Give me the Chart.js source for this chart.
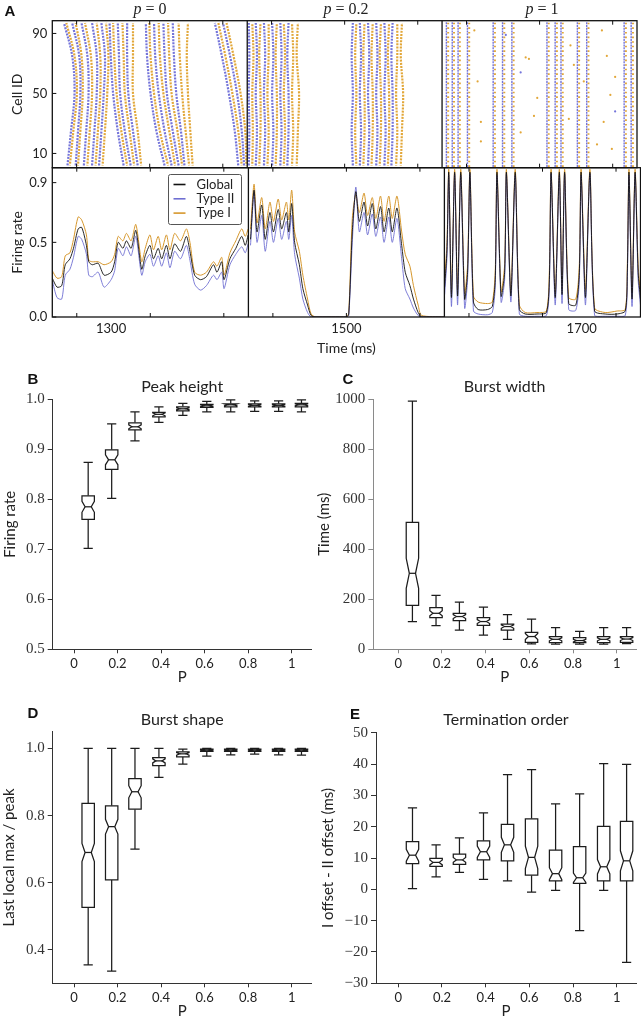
<!DOCTYPE html>
<html>
<head>
<meta charset="utf-8">
<script src="https://cdn.jsdelivr.net/npm/chart.js@4.4.1/dist/chart.umd.min.js"></script>
<style>
  body { margin: 0; background: #fff; }
  #fig { position: relative; width: 641px; height: 1019px; overflow: hidden; }
  #fig canvas { position: absolute; left: 0; top: 0; }
  .lab { position: absolute; transform: translate(-50%, -50%); font: bold 15px "Liberation Sans", Arial, sans-serif; color: #111; }
  .ptitle { position: absolute; transform: translate(-50%, -50%); font: 16px "Liberation Serif", serif; color: #222; white-space: nowrap; }
</style>
</head>
<body>
<div id="fig">
  <canvas id="raster" width="641" height="1019"></canvas>
  <canvas id="rate" width="641" height="1019"></canvas>
  <canvas id="peak" width="641" height="1019"></canvas>
  <canvas id="width" width="641" height="1019"></canvas>
  <canvas id="shape" width="641" height="1019"></canvas>
  <canvas id="order" width="641" height="1019"></canvas>
  <div class="lab" style="left:10px;top:10px">A</div>
  <div class="lab" style="left:33px;top:378px">B</div>
  <div class="lab" style="left:348px;top:378px">C</div>
  <div class="lab" style="left:33px;top:712px">D</div>
  <div class="lab" style="left:355px;top:713px">E</div>
  <div class="ptitle" style="left:150px;top:9px"><i>p</i> = 0</div>
  <div class="ptitle" style="left:346px;top:9px"><i>p</i> = 0.2</div>
  <div class="ptitle" style="left:542px;top:9px"><i>p</i> = 1</div>
</div>
<script>
// ---------- panel A: time axis ----------
var panelEdges = [1416.7, 1583.3];
var timeLabels = [1300, 1500, 1700];
var timeTickMarks = [1270.8, 1333.3, 1395.8, 1437.5, 1500, 1562.5, 1604.2, 1666.7, 1729.2];
var cellTicks = [10, 50, 90];
var rateTicks = [0, 0.5, 0.9];

// raster volleys: spike time (ms) at the cells listed in stripeCells
var stripeCells = [2, 25, 50, 75, 97];
var edgeCells = [1, 98];
var typeIIStripesP0 = [
  [1263, 1266, 1269, 1267, 1260], [1270, 1272, 1274, 1273, 1267], [1277, 1279, 1281, 1280, 1275],
  [1284, 1286, 1288, 1288, 1284], [1290, 1292, 1294, 1295, 1292],
  [1311, 1306, 1302, 1300, 1299], [1317, 1312, 1308, 1307, 1306], [1323, 1319, 1315, 1314, 1314],
  [1346, 1339, 1334, 1331, 1330], [1352, 1346, 1341, 1338, 1337], [1358, 1353, 1348, 1346, 1345],
  [1363, 1360, 1356, 1354, 1353],
  [1409, 1406, 1401, 1395, 1389], [1414, 1412, 1408, 1402, 1396]
];
var typeIStripesP0 = [
  [1265, 1268, 1271, 1269, 1262], [1272, 1274, 1276, 1275, 1270], [1280, 1282, 1284, 1283, 1278],
  [1287, 1289, 1291, 1291, 1288], [1293, 1295, 1297, 1298, 1296],
  [1314, 1309, 1305, 1303, 1302], [1320, 1316, 1312, 1311, 1310], [1326, 1323, 1319, 1319, 1319],
  [1349, 1342, 1337, 1334, 1333], [1355, 1350, 1345, 1342, 1341], [1361, 1357, 1352, 1350, 1349],
  [1367, 1364, 1361, 1359, 1358], [1370, 1368, 1366, 1365, 1366],
  [1412, 1409, 1404, 1398, 1392], [1416, 1415, 1411, 1405, 1399]
];
var typeIIStripesP02 = [
  [1418, 1418.5, 1418, 1418.5, 1418], [1424, 1425, 1424, 1425, 1424], [1431, 1432, 1431, 1432, 1431],
  [1438, 1439, 1438, 1439, 1438], [1445, 1446, 1445, 1446, 1445], [1451, 1452, 1452, 1451, 1452],
  [1507, 1506, 1507, 1506, 1507], [1513, 1514, 1513, 1514, 1513], [1520, 1521, 1520, 1521, 1520],
  [1527, 1528, 1527, 1528, 1527], [1534, 1535, 1534, 1535, 1534], [1540, 1541, 1541, 1540, 1541]
];
var typeIStripesP02 = [
  [1421, 1421.5, 1421, 1422, 1421], [1427, 1428, 1428, 1427, 1428], [1434, 1435, 1434, 1435, 1435],
  [1441, 1442, 1442, 1441, 1442], [1448, 1449, 1448, 1449, 1448], [1455, 1456, 1455, 1456, 1455],
  [1459, 1460, 1461, 1459, 1460],
  [1510, 1509, 1510, 1509, 1510], [1516, 1517, 1517, 1516, 1517], [1523, 1524, 1524, 1523, 1524],
  [1530, 1531, 1531, 1530, 1531], [1537, 1538, 1538, 1537, 1538], [1544, 1545, 1544, 1545, 1545],
  [1548, 1549, 1550, 1548, 1549]
];
var typeIIVolleysP1 = [1587, 1592, 1597, 1605, 1627, 1635, 1643, 1673, 1680, 1685, 1699, 1707, 1739, 1745];
var typeIVolleysP1 = [1588.5, 1593.5, 1598.5, 1606.5, 1628.5, 1636.5, 1644.5, 1674.5, 1681.5, 1686.5, 1700.5, 1708.5, 1740.5, 1746.5];
var strayTypeITime = [1610.9, 1654.8, 1657.6, 1664.7, 1720, 1724.2, 1731.3, 1616.5, 1650.5, 1661.9, 1691.7, 1704.5, 1721.5, 1727.2, 1613.7, 1616.5, 1693.1, 1696, 1715.8, 1728.5];
var strayTypeICell = [92, 74, 73, 47, 92, 75, 61, 18, 24, 35, 33, 58, 31, 49, 58, 31, 82, 69, 16, 13];
var strayTypeIITime = [1637.8, 1731.3, 1650.5];
var strayTypeIICell = [89, 38, 64];

// firing rate, one block per p-window
var timeP0 = [1250,1254,1258,1261,1265,1268,1272,1275,1279,1281,1284,1289,1294,1300,1303,1306,1310,1313,1317,1321,1326,1329,1333,1336,1340,1343,1347,1350,1354,1359,1364,1367,1371,1376,1381,1387,1390,1394,1396,1401,1406,1411,1414,1416.5];
var globalP0 = [.26,.20,.21,.35,.39,.46,.59,.60,.48,.37,.35,.36,.28,.30,.37,.50,.46,.51,.46,.58,.32,.41,.48,.39,.46,.39,.48,.39,.49,.44,.54,.44,.28,.25,.27,.35,.30,.37,.25,.39,.46,.54,.48,.55];
var typeIP0 = [.31,.26,.27,.41,.43,.52,.67,.65,.55,.38,.37,.37,.35,.37,.42,.54,.51,.56,.51,.62,.37,.46,.55,.45,.54,.45,.55,.45,.56,.51,.59,.50,.30,.28,.30,.37,.34,.40,.28,.43,.51,.59,.54,.59];
var typeIIP0 = [.245,.13,.12,.28,.32,.40,.54,.52,.42,.28,.27,.30,.20,.25,.31,.46,.41,.47,.41,.54,.28,.37,.42,.34,.41,.34,.43,.33,.44,.39,.48,.38,.22,.18,.21,.28,.25,.30,.19,.35,.42,.47,.43,.49];

var timeP02 = [1418.5,1421.5,1424,1428,1431,1435,1438,1442,1445,1449,1451,1453.5,1456,1460,1463,1467,1470,1474,1500,1502,1505,1508,1511,1515,1518,1522,1525,1529,1532,1536,1539,1543,1547,1550,1554,1557,1561,1564,1583];
var globalP02 = [.52,.85,.57,.75,.52,.70,.57,.72,.59,.70,.57,.76,.50,.35,.19,.08,.01,0,0,.02,.57,.84,.64,.77,.61,.76,.59,.74,.57,.73,.57,.73,.48,.30,.21,.12,.03,0,0];
var typeIP02 = [.59,.89,.63,.80,.59,.77,.64,.79,.65,.77,.65,.85,.57,.44,.28,.12,.02,0,0,.03,.66,.82,.70,.83,.68,.80,.66,.81,.64,.81,.66,.81,.57,.42,.34,.21,.08,.01,0];
var typeIIP02 = [.48,.83,.50,.68,.44,.64,.50,.66,.52,.64,.52,.68,.42,.26,.12,.03,0,0,0,.01,.50,.87,.57,.70,.55,.69,.54,.67,.50,.67,.50,.66,.39,.19,.12,.06,.01,0,0];

var timeP1 = [1583.5,1585.5,1587,1589.3,1592,1594.5,1597.2,1600.5,1603,1605,1608,1612,1620,1624,1626.5,1628,1631.5,1634.5,1636,1639.8,1643.5,1647,1652,1662,1670,1672.5,1674,1677.5,1681,1683.3,1685.5,1689,1695,1698,1699.5,1703.2,1707,1711,1720,1730,1737,1738.8,1740.2,1742.8,1745.4,1748,1750];
var globalP1 = [.20,.45,.97,.13,.97,.14,.97,.12,.30,.97,.10,.05,.05,.07,.25,.97,.14,.30,.97,.14,.97,.05,.02,.02,.03,.25,.97,.13,.97,.15,.97,.09,.08,.30,.97,.13,.97,.04,.02,.02,.04,.30,.97,.12,.97,.30,.12];
var typeIP1 = [.25,.50,.99,.16,.99,.18,.99,.16,.35,.99,.14,.10,.09,.10,.30,.99,.17,.35,.99,.17,.99,.08,.03,.03,.04,.30,.99,.16,.99,.19,.99,.13,.12,.35,.99,.18,.99,.06,.03,.04,.05,.35,.99,.16,.99,.35,.15];
var typeIIP1 = [.15,.40,.95,.07,.96,.08,.95,.06,.25,.96,.04,.02,.015,.03,.20,.95,.10,.25,.96,.10,.95,.02,.005,.005,.01,.20,.96,.08,.95,.09,.96,.05,.045,.25,.95,.08,.96,.01,.005,.005,.01,.25,.95,.07,.96,.25,.08];

// ---------- panels B-E: box statistics at each P ----------
var boxP = [0.065, 0.173, 0.28, 0.39, 0.5, 0.61, 0.72, 0.83, 0.94, 1.045];
var xTicksP = [0, 0.2, 0.4, 0.6, 0.8, 1];

var peakLo = [0.702,0.802,0.917,0.954,0.968,0.975,0.975,0.976,0.976,0.975];
var peakQ1 = [0.760,0.860,0.939,0.965,0.977,0.984,0.985,0.985,0.985,0.985];
var peakMed = [0.785,0.879,0.945,0.970,0.981,0.987,0.989,0.988,0.988,0.989];
var peakQ3 = [0.807,0.899,0.953,0.974,0.985,0.990,0.991,0.991,0.991,0.992];
var peakHi = [0.874,0.951,0.975,0.985,0.992,0.996,0.999,0.997,0.997,0.999];
var peakNotch = [0.011,0.010,0.004,0.003,0.002,0.002,0.002,0.002,0.002,0.002];
var peakTicks = [0.5, 0.6, 0.7, 0.8, 0.9, 1.0];

var widthLo = [111,95,77,57,40,22,21,21,21,23];
var widthQ1 = [176,127,115,96,77,28,27,27,27,28];
var widthMed = [304,144,131,111,91,51,40,35,40,41];
var widthQ3 = [508,167,144,127,101,68,51,47,51,51];
var widthHi = [993,216,189,169,139,121,87,72,87,87];
var widthNotch = [60,10,8,8,7,12,6,5,6,6];
var widthTicks = [0, 200, 400, 600, 800, 1000];

var shapeLo = [0.355,0.336,0.700,0.914,0.953,0.977,0.981,0.983,0.981,0.980];
var shapeQ1 = [0.526,0.608,0.819,0.949,0.975,0.991,0.991,0.991,0.991,0.991];
var shapeMed = [0.690,0.767,0.871,0.963,0.984,0.995,0.995,0.995,0.995,0.995];
var shapeQ3 = [0.836,0.829,0.910,0.973,0.990,0.998,0.998,0.998,0.998,0.998];
var shapeHi = [1.0,1.0,1.0,1.0,0.998,1.0,1.0,1.0,1.0,1.0];
var shapeNotch = [0.027,0.022,0.018,0.006,0.004,0.002,0.002,0.002,0.002,0.002];
var shapeTicks = [0.4, 0.6, 0.8, 1.0];

var orderLo = [0.2,4.0,5.4,3.2,2.7,-0.9,-0.3,-13.2,-0.3,-23.3];
var orderQ1 = [8.2,7.3,8.0,9.4,9.1,4.5,2.7,1.9,2.7,2.7];
var orderMed = [10.9,8.6,9.4,12.0,14.2,10.2,5.0,3.7,7.2,9.1];
var orderQ3 = [15.2,9.9,11.2,15.5,20.7,22.5,12.5,13.6,20.1,21.7];
var orderHi = [26.0,14.2,16.4,24.4,36.6,38.2,27.3,30.5,40.1,39.9];
var orderNotch = [1.9,0.8,0.8,1.8,2.4,3.6,1.9,1.5,2.3,3.2];
var orderTicks = [-30, -20, -10, 0, 10, 20, 30, 40, 50];

// ---------- shared look ----------
var W = 641, H = 1019;
var BLUE = '#6f6fd2', ORANGE = '#d6972c';
var RBLUE = '#7474da', RORANGE = '#e2a739';
Chart.defaults.font.family = 'Lato, "DejaVu Sans", sans-serif';
Chart.defaults.color = '#222';
Chart.defaults.animation = false;
var sansTick = { family: 'Lato, sans-serif', size: 13 };
var serifTick = { family: '"Liberation Serif", serif', size: 15 };

function useTicks(list) {
  return function (s) { s.ticks = list.map(function (v) { return { value: v }; }); };
}

// box outline, panel dividers and inward tick marks of panel A
function frameA(yMarks) {
  return {
    id: 'frameA',
    afterDraw: function (chart) {
      var ctx = chart.ctx, a = chart.chartArea, x = chart.scales.x, y = chart.scales.y;
      ctx.save();
      ctx.strokeStyle = '#111';
      ctx.lineWidth = 1.3;
      ctx.strokeRect(a.left, a.top, a.right - a.left, a.bottom - a.top);
      ctx.beginPath();
      panelEdges.forEach(function (t) {
        var px = x.getPixelForValue(t);
        ctx.moveTo(px, a.top); ctx.lineTo(px, a.bottom);
      });
      ctx.stroke();
      ctx.lineWidth = 1;
      ctx.beginPath();
      timeTickMarks.forEach(function (t) {
        var px = x.getPixelForValue(t);
        ctx.moveTo(px, a.bottom); ctx.lineTo(px, a.bottom - 4);
        ctx.moveTo(px, a.top); ctx.lineTo(px, a.top + 4);
      });
      yMarks.forEach(function (v) {
        var py = y.getPixelForValue(v);
        ctx.moveTo(a.left, py); ctx.lineTo(a.left + 4, py);
      });
      ctx.stroke();
      ctx.restore();
    }
  };
}

var legendA = {
  id: 'legendA',
  afterDraw: function (chart) {
    var ctx = chart.ctx, x0 = 168.5, y0 = 174.5;
    ctx.save();
    ctx.fillStyle = '#fff';
    ctx.strokeStyle = '#555';
    ctx.lineWidth = 1;
    ctx.beginPath();
    ctx.roundRect(x0, y0, 73, 50, 2);
    ctx.fill();
    ctx.stroke();
    ctx.font = '13px Lato, sans-serif';
    ctx.textBaseline = 'middle';
    chart.data.datasets.forEach(function (d, i) {
      var yy = y0 + 10 + i * 14.3;
      ctx.strokeStyle = d.borderColor;
      ctx.lineWidth = 1.6;
      ctx.beginPath();
      ctx.moveTo(x0 + 5, yy); ctx.lineTo(x0 + 17, yy);
      ctx.stroke();
      ctx.fillStyle = '#222';
      ctx.fillText(d.label, x0 + 28, yy);
    });
    ctx.restore();
  }
};

// ---------- A top: raster ----------
function stripes(list, color, dash, offset) {
  return list.map(function (times) {
    return {
      data: stripeCells.map(function (c, i) { return { x: times[i], y: c }; }),
      borderColor: color, borderWidth: 2.2, borderDash: dash, borderDashOffset: offset,
      pointRadius: 0, tension: 0.35, fill: false
    };
  });
}
function volleys(list, color, dash, width) {
  return list.map(function (t) {
    return {
      data: edgeCells.map(function (c) { return { x: t, y: c }; }),
      borderColor: color, borderWidth: width, borderDash: dash, pointRadius: 0, fill: false
    };
  });
}
function strays(times, cells, color) {
  return {
    type: 'scatter',
    data: times.map(function (t, i) { return { x: t, y: cells[i] }; }),
    backgroundColor: color, borderWidth: 0, pointRadius: 1.1
  };
}

var rasterSets = []
  .concat(stripes(typeIIStripesP0, RBLUE, [2, 1.2], 0))
  .concat(stripes(typeIStripesP0, RORANGE, [2, 1.2], 1.5))
  .concat(stripes(typeIIStripesP02, RBLUE, [2, 1.2], 0))
  .concat(stripes(typeIStripesP02, RORANGE, [2, 1.2], 1.5))
  .concat(volleys(typeIIVolleysP1, RBLUE, [2, 0.8], 1.4))
  .concat(volleys(typeIVolleysP1, RORANGE, [1.6, 3], 2))
  .concat([strays(strayTypeITime, strayTypeICell, RORANGE), strays(strayTypeIITime, strayTypeIICell, RBLUE)]);

new Chart('raster', {
  type: 'line',
  data: { datasets: rasterSets },
  options: {
    responsive: false,
    layout: { padding: { left: 8.6, top: 20.7, right: 0.5, bottom: H - 167.7 } },
    plugins: { legend: { display: false }, tooltip: { enabled: false } },
    scales: {
      x: { type: 'linear', min: 1250, max: 1750, display: false },
      y: {
        type: 'linear', min: 0.5, max: 98.5,
        afterBuildTicks: useTicks(cellTicks),
        afterFit: function (s) { s.width = 43.7; },
        grid: { display: false, drawTicks: false }, border: { display: false },
        ticks: { font: sansTick, padding: 5, color: '#222' },
        title: { display: true, text: 'Cell ID', padding: 0, font: { size: 14 } }
      }
    }
  },
  plugins: [frameA(cellTicks)]
});

// ---------- A bottom: firing rate ----------
function joined(a, b, c) {
  function pts(times, vals) { return times.map(function (t, i) { return { x: t, y: vals[i] }; }); }
  return pts(timeP0, a).concat([{ x: panelEdges[0], y: null }], pts(timeP02, b),
    [{ x: panelEdges[1], y: null }], pts(timeP1, c));
}

new Chart('rate', {
  type: 'line',
  data: {
    datasets: [
      { label: 'Global', data: joined(globalP0, globalP02, globalP1), borderColor: '#111', borderWidth: 0.9 },
      { label: 'Type II', data: joined(typeIIP0, typeIIP02, typeIIP1), borderColor: BLUE, borderWidth: 0.9 },
      { label: 'Type I', data: joined(typeIP0, typeIP02, typeIP1), borderColor: ORANGE, borderWidth: 1 }
    ]
  },
  options: {
    responsive: false,
    elements: { point: { radius: 0 }, line: { tension: 0.25 } },
    layout: { padding: { left: 8.6, top: 167.7, right: 0.5, bottom: H - 317 - 39.4 } },
    plugins: { legend: { display: false }, tooltip: { enabled: false } },
    scales: {
      x: {
        type: 'linear', min: 1250, max: 1750,
        afterBuildTicks: useTicks(timeLabels),
        afterFit: function (s) { s.height = 39.4; },
        grid: { display: false, drawTicks: false }, border: { display: false },
        ticks: { font: sansTick, padding: 4, color: '#222', callback: function (v) { return String(v); } },
        title: { display: true, text: 'Time (ms)', padding: 0, font: { size: 14 } }
      },
      y: {
        type: 'linear', min: 0, max: 1,
        afterBuildTicks: useTicks(rateTicks),
        afterFit: function (s) { s.width = 43.7; },
        grid: { display: false, drawTicks: false }, border: { display: false },
        ticks: { font: sansTick, padding: 5, color: '#222', callback: function (v) { return v.toFixed(1); } },
        title: { display: true, text: 'Firing rate', padding: 0, font: { size: 14 } }
      }
    }
  },
  plugins: [frameA(rateTicks), legendA]
});

// ---------- B-E: notched box plots ----------
function notchBoxes(st) {
  return {
    id: 'notchBoxes',
    afterDatasetsDraw: function (chart) {
      var ctx = chart.ctx, x = chart.scales.x, y = chart.scales.y;
      var hw = 6.2, cw = 4.6;
      ctx.save();
      ctx.strokeStyle = '#1c1c1c';
      ctx.lineWidth = 1.25;
      boxP.forEach(function (p, i) {
        var cx = x.getPixelForValue(p);
        var yq1 = y.getPixelForValue(st.q1[i]), yq3 = y.getPixelForValue(st.q3[i]);
        var ym = y.getPixelForValue(st.med[i]);
        var ynl = y.getPixelForValue(st.med[i] - st.notch[i]);
        var ynh = y.getPixelForValue(st.med[i] + st.notch[i]);
        var ylo = y.getPixelForValue(st.lo[i]), yhi = y.getPixelForValue(st.hi[i]);
        ctx.beginPath();
        ctx.moveTo(cx, yq3); ctx.lineTo(cx, yhi);
        ctx.moveTo(cx - cw, yhi); ctx.lineTo(cx + cw, yhi);
        ctx.moveTo(cx, yq1); ctx.lineTo(cx, ylo);
        ctx.moveTo(cx - cw, ylo); ctx.lineTo(cx + cw, ylo);
        ctx.stroke();
        ctx.beginPath();
        ctx.moveTo(cx - hw, yq1);
        ctx.lineTo(cx - hw, ynl);
        ctx.lineTo(cx - hw / 2, ym);
        ctx.lineTo(cx - hw, ynh);
        ctx.lineTo(cx - hw, yq3);
        ctx.lineTo(cx + hw, yq3);
        ctx.lineTo(cx + hw, ynh);
        ctx.lineTo(cx + hw / 2, ym);
        ctx.lineTo(cx + hw, ynl);
        ctx.lineTo(cx + hw, yq1);
        ctx.closePath();
        ctx.fillStyle = '#fff';
        ctx.fill();
        ctx.stroke();
        ctx.beginPath();
        ctx.moveTo(cx - hw / 2, ym); ctx.lineTo(cx + hw / 2, ym);
        ctx.stroke();
      });
      ctx.restore();
    }
  };
}

function panelTitle(text, ty) {
  return {
    id: 'panelTitle',
    afterDraw: function (chart) {
      var ctx = chart.ctx, a = chart.chartArea;
      ctx.save();
      ctx.font = '16px Lato, sans-serif';
      ctx.fillStyle = '#222';
      ctx.textAlign = 'center';
      ctx.textBaseline = 'middle';
      ctx.fillText(text, (a.left + a.right) / 2, ty);
      ctx.restore();
    }
  };
}

function boxChart(id, st, c) {
  return new Chart(id, {
    type: 'scatter',
    data: {
      datasets: [{
        label: 'median',
        data: boxP.map(function (p, i) { return { x: p, y: st.med[i] }; }),
        pointRadius: 0
      }]
    },
    options: {
      responsive: false,
      layout: { padding: { left: c.yTitleX - 9, top: c.top, right: W - c.right, bottom: H - c.bottom - c.xH } },
      plugins: { legend: { display: false }, tooltip: { enabled: false } },
      scales: {
        x: {
          type: 'linear', min: c.xMin, max: c.xMax,
          afterBuildTicks: useTicks(xTicksP),
          afterFit: function (s) { s.height = c.xH; },
          grid: { display: true, drawOnChartArea: false, drawTicks: true, tickLength: 4, tickColor: c.axis },
          border: { display: true, color: c.axis, width: 1 },
          ticks: { font: sansTick, padding: 3, color: '#222', callback: function (v) { return String(v); } },
          title: { display: true, text: 'P', padding: 0, font: { size: 15, lineHeight: 1 } }
        },
        y: {
          type: 'linear', min: c.yMin, max: c.yMax,
          afterBuildTicks: useTicks(c.ticks),
          afterFit: function (s) { s.width = c.left - (c.yTitleX - 9); },
          grid: { display: true, drawOnChartArea: false, drawTicks: true, tickLength: 5, tickColor: c.axis },
          border: { display: true, color: c.axis, width: 1 },
          ticks: { font: serifTick, padding: 3, color: '#333', callback: c.fmt },
          title: { display: true, text: c.yTitle, padding: 0, font: { size: 15 } }
        }
      }
    },
    plugins: [notchBoxes(st), panelTitle(c.title, c.titleY)]
  });
}

function oneDecimal(v) { return v.toFixed(1); }
function plain(v) { return v < 0 ? '\u2212' + Math.abs(v) : String(v); }

boxChart('peak', { lo: peakLo, q1: peakQ1, med: peakMed, q3: peakQ3, hi: peakHi, notch: peakNotch }, {
  left: 52.7, right: 311.7, top: 399.3, bottom: 649.3, xH: 35.2, xMin: -0.098, xMax: 1.092,
  yMin: 0.5, yMax: 1.0, ticks: peakTicks, fmt: oneDecimal, yTitle: 'Firing rate', yTitleX: 10,
  title: 'Peak height', titleY: 387, axis: '#333'
});
boxChart('width', { lo: widthLo, q1: widthQ1, med: widthMed, q3: widthQ3, hi: widthHi, notch: widthNotch }, {
  left: 373.3, right: 636, top: 399.3, bottom: 649.3, xH: 35.2, xMin: -0.114, xMax: 1.088,
  yMin: 0, yMax: 1000, ticks: widthTicks, fmt: plain, yTitle: 'Time (ms)', yTitleX: 324,
  title: 'Burst width', titleY: 387, axis: '#8a8a8a'
});
boxChart('shape', { lo: shapeLo, q1: shapeQ1, med: shapeMed, q3: shapeQ3, hi: shapeHi, notch: shapeNotch }, {
  left: 52.7, right: 311.7, top: 731.7, bottom: 983.3, xH: 35.7, xMin: -0.098, xMax: 1.092,
  yMin: 0.3, yMax: 1.05, ticks: shapeTicks, fmt: oneDecimal, yTitle: 'Last local max / peak', yTitleX: 9.3,
  title: 'Burst shape', titleY: 720, axis: '#333'
});
boxChart('order', { lo: orderLo, q1: orderQ1, med: orderMed, q3: orderQ3, hi: orderHi, notch: orderNotch }, {
  left: 376, right: 636, top: 732.7, bottom: 983.3, xH: 35.7, xMin: -0.102, xMax: 1.088,
  yMin: -30, yMax: 50, ticks: orderTicks, fmt: plain, yTitle: 'I offset - II offset (ms)', yTitleX: 328.3,
  title: 'Termination order', titleY: 720, axis: '#333'
});
</script>
</body>
</html>
